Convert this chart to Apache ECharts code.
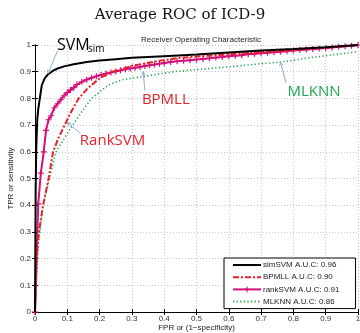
<!DOCTYPE html>
<html lang="en">
<head>
    <meta charset="utf-8">
    <title>Average ROC of ICD-9</title>
    <script src="https://cdn.jsdelivr.net/npm/echarts@6/dist/echarts.min.js"></script>
    <style>
        html, body { margin: 0; padding: 0; background: #fff; }
        #chart { width: 360px; height: 333px; }
    </style>
</head>
<body>
    <div id="chart"></div>
    <script>
        // ROC curves, [FPR, TPR]
        var simSVM = [[0,0],[0.002,0.45],[0.004,0.62],[0.007,0.72],[0.01,0.76],[0.015,0.8],[0.021,0.85],[0.03,0.875],[0.04,0.89],[0.055,0.903],[0.07,0.912],[0.09,0.92],[0.12,0.928],[0.16,0.936],[0.2,0.942],[0.25,0.947],[0.3,0.952],[0.4,0.958],[0.5,0.964],[0.6,0.972],[0.7,0.979],[0.8,0.985],[0.9,0.992],[1,1]];
        var bpmll = [[0,0],[0.005,0.2],[0.012,0.3],[0.025,0.4],[0.042,0.5],[0.056,0.6],[0.072,0.65],[0.092,0.7],[0.112,0.75],[0.135,0.8],[0.165,0.84],[0.2,0.875],[0.24,0.9],[0.3,0.922],[0.38,0.94],[0.45,0.952],[0.5,0.957],[0.6,0.965],[0.7,0.973],[0.8,0.981],[0.9,0.99],[1,1]];
        var rankSVM = [[0,0],[0.01,0.405],[0.018,0.52],[0.027,0.6],[0.034,0.68],[0.042,0.72],[0.05,0.735],[0.06,0.765],[0.07,0.78],[0.08,0.795],[0.09,0.81],[0.1,0.822],[0.11,0.832],[0.12,0.84],[0.13,0.852],[0.145,0.862],[0.16,0.87],[0.175,0.877],[0.19,0.883],[0.205,0.888],[0.22,0.893],[0.235,0.897],[0.25,0.901],[0.265,0.905],[0.28,0.909],[0.295,0.912],[0.31,0.915],[0.325,0.918],[0.34,0.921],[0.355,0.924],[0.37,0.927],[0.385,0.93],[0.4,0.933],[0.42,0.936],[0.44,0.939],[0.46,0.941],[0.48,0.943],[0.5,0.946],[0.52,0.948],[0.54,0.95],[0.56,0.953],[0.58,0.955],[0.6,0.958],[0.62,0.96],[0.64,0.962],[0.66,0.965],[0.68,0.967],[0.7,0.969],[0.72,0.971],[0.74,0.973],[0.76,0.975],[0.78,0.977],[0.8,0.979],[0.82,0.981],[0.84,0.983],[0.86,0.985],[0.88,0.987],[0.9,0.989],[0.92,0.991],[0.94,0.993],[0.96,0.995],[0.98,0.997],[1,1]];
        var mlknn = [[0,0],[0.01,0.25],[0.025,0.4],[0.045,0.5],[0.065,0.6],[0.09,0.65],[0.117,0.7],[0.145,0.75],[0.175,0.8],[0.227,0.85],[0.27,0.87],[0.325,0.88],[0.43,0.9],[0.5,0.908],[0.6,0.918],[0.7,0.93],[0.76,0.936],[0.85,0.952],[0.92,0.963],[1,0.975]];

        var seriesNames = ['simSVM A.U.C: 0.96', 'BPMLL A.U.C: 0.90', 'rankSVM A.U.C: 0.91', 'MLKNN A.U.C: 0.86'];

        // callouts: text, text anchor, arrow from -> to (data coords)
        var notes = [
            { text: 'BPMLL', color: '#e8202a', at: [0.405, 0.794], from: [0.34, 0.83], to: [0.335, 0.9] },
            { text: 'RankSVM', color: '#e8202a', at: [0.24, 0.64], from: [0.14, 0.67], to: [0.1, 0.71] },
            { text: 'MLKNN', color: '#1aaa50', at: [0.864, 0.825], from: [0.777, 0.858], to: [0.76, 0.936] },
            { text: 'SVM', color: '#000', at: [0.068, 1.0], from: [0.07, 0.978], to: [0.04, 0.893] }
        ];

        var chart = echarts.init(document.getElementById('chart'), null, { renderer: 'canvas' });
        var axisFont = { fontFamily: 'Liberation Sans', fontSize: 8, color: '#333' };

        function mainAxis(pos, name) {
            return {
                type: 'value', position: pos, min: 0, max: 1, interval: 0.1,
                name: name, nameLocation: 'middle', nameMoveOverlap: false,
                nameGap: pos === 'left' ? 20 : 12,
                nameTextStyle: { fontFamily: 'Liberation Sans', fontSize: 8, color: '#222' },
                axisLine: { show: true, lineStyle: { color: '#000', width: 1 } },
                axisTick: { show: true, inside: true, length: 3, lineStyle: { color: '#000' } },
                axisLabel: Object.assign({ margin: pos === 'left' ? 4 : 3, formatter: function (v) { return +v.toFixed(1) + ''; } }, axisFont),
                splitLine: { show: true, lineStyle: { color: '#c4c4c4', type: [1, 2], width: 1 } }
            };
        }
        function boxAxis(pos) {
            return {
                type: 'value', position: pos, min: 0, max: 1, interval: 0.1,
                axisLine: { show: true, lineStyle: { color: '#000', width: 1 } },
                axisTick: { show: true, inside: true, length: 3, lineStyle: { color: '#000' } },
                axisLabel: { show: false },
                splitLine: { show: false }
            };
        }

        var plus = 'path://M4,0h2v4h4v2h-4v4h-2v-4h-4v-2h4z';
        var noDot = { opacity: 0 };

        var option = {
            animation: false,
            backgroundColor: '#fff',
            title: [
                { text: 'Average ROC of ICD-9', left: 'center', top: 3,
                  textStyle: { fontFamily: 'DejaVu Serif', fontSize: 15, fontWeight: 'normal', color: '#111' } },
                { text: 'Receiver Operating Characteristic', left: 196, top: 31, textAlign: 'center',
                  textStyle: { fontFamily: 'Liberation Sans', fontSize: 8, fontWeight: 'normal', color: '#222' } }
            ],
            grid: { left: 35, right: 2, top: 45, bottom: 21, containLabel: false, outerBoundsMode: 'none' },
            legend: {
                orient: 'vertical', left: 224, top: 258,
                data: [
                    { name: seriesNames[0], itemStyle: noDot },
                    { name: seriesNames[1], itemStyle: noDot },
                    { name: seriesNames[2] },
                    { name: seriesNames[3], itemStyle: noDot }
                ],
                backgroundColor: '#fff', borderColor: '#000', borderWidth: 1,
                padding: [3, 16, 3, 8], itemWidth: 28, itemHeight: 7, itemGap: 4.2,
                textStyle: { fontFamily: 'Liberation Sans', fontSize: 8, color: '#222', padding: [0, 0, 0, -3] }
            },
            xAxis: [mainAxis('bottom', 'FPR or (1\u2212specificity)'), boxAxis('top')],
            yAxis: [mainAxis('left', 'TPR or sensitivity'), boxAxis('right')],
            series: [
                { name: seriesNames[0], type: 'line', data: simSVM, showSymbol: false, symbol: 'none',
                  lineStyle: { color: '#000', width: 2 }, itemStyle: { color: '#000' }, z: 5 },
                { name: seriesNames[1], type: 'line', data: bpmll, showSymbol: false, symbol: 'none',
                  lineStyle: { color: '#e8202a', width: 2, type: [6, 2, 2, 2] }, itemStyle: { color: '#e8202a' }, z: 4 },
                { name: seriesNames[2], type: 'line', data: rankSVM, symbol: plus, symbolSize: 6, showSymbol: true,
                  lineStyle: { color: '#d4127a', width: 2 }, itemStyle: { color: '#d4127a' }, z: 3 },
                { name: seriesNames[3], type: 'line', data: mlknn, showSymbol: false, symbol: 'none',
                  lineStyle: { color: '#22a448', width: 1.6, type: [1.2, 2.4] }, itemStyle: { color: '#22a448' }, z: 2 }
            ]
        };
        chart.setOption(option);

        // callout texts and arrows placed through the grid's scales
        var gfx = [];
        notes.forEach(function (n) {
            var p = chart.convertToPixel({ gridIndex: 0 }, n.at);
            var a = chart.convertToPixel({ gridIndex: 0 }, n.from);
            var b = chart.convertToPixel({ gridIndex: 0 }, n.to);
            var ang = Math.atan2(b[1] - a[1], b[0] - a[0]);
            var h = 4;
            gfx.push({ type: 'line', shape: { x1: a[0], y1: a[1], x2: b[0], y2: b[1] },
                       style: { stroke: '#8fb0d0', lineWidth: 1 }, z: 20 });
            gfx.push({ type: 'polyline', shape: { points: [
                        [b[0] - h * Math.cos(ang - 0.45), b[1] - h * Math.sin(ang - 0.45)],
                        [b[0], b[1]],
                        [b[0] - h * Math.cos(ang + 0.45), b[1] - h * Math.sin(ang + 0.45)]] },
                       style: { stroke: '#8fb0d0', lineWidth: 1, fill: null }, z: 20 });
            if (n.text === 'SVM') {
                gfx.push({ type: 'text', x: p[0], y: p[1], z: 21,
                           style: { text: 'SVM', fill: n.color, font: '16px "Open Sans"', align: 'left', verticalAlign: 'middle' } });
                gfx.push({ type: 'text', x: p[0] + 31, y: p[1] + 4, z: 21,
                           style: { text: 'sim', fill: n.color, font: '10px "Open Sans"', align: 'left', verticalAlign: 'middle' } });
            } else {
                gfx.push({ type: 'text', x: p[0], y: p[1], z: 21,
                           style: { text: n.text, fill: n.color, font: '15px "Open Sans"', align: 'center', verticalAlign: 'middle' } });
            }
        });
        chart.setOption({ graphic: gfx });
    </script>
</body>
</html>
